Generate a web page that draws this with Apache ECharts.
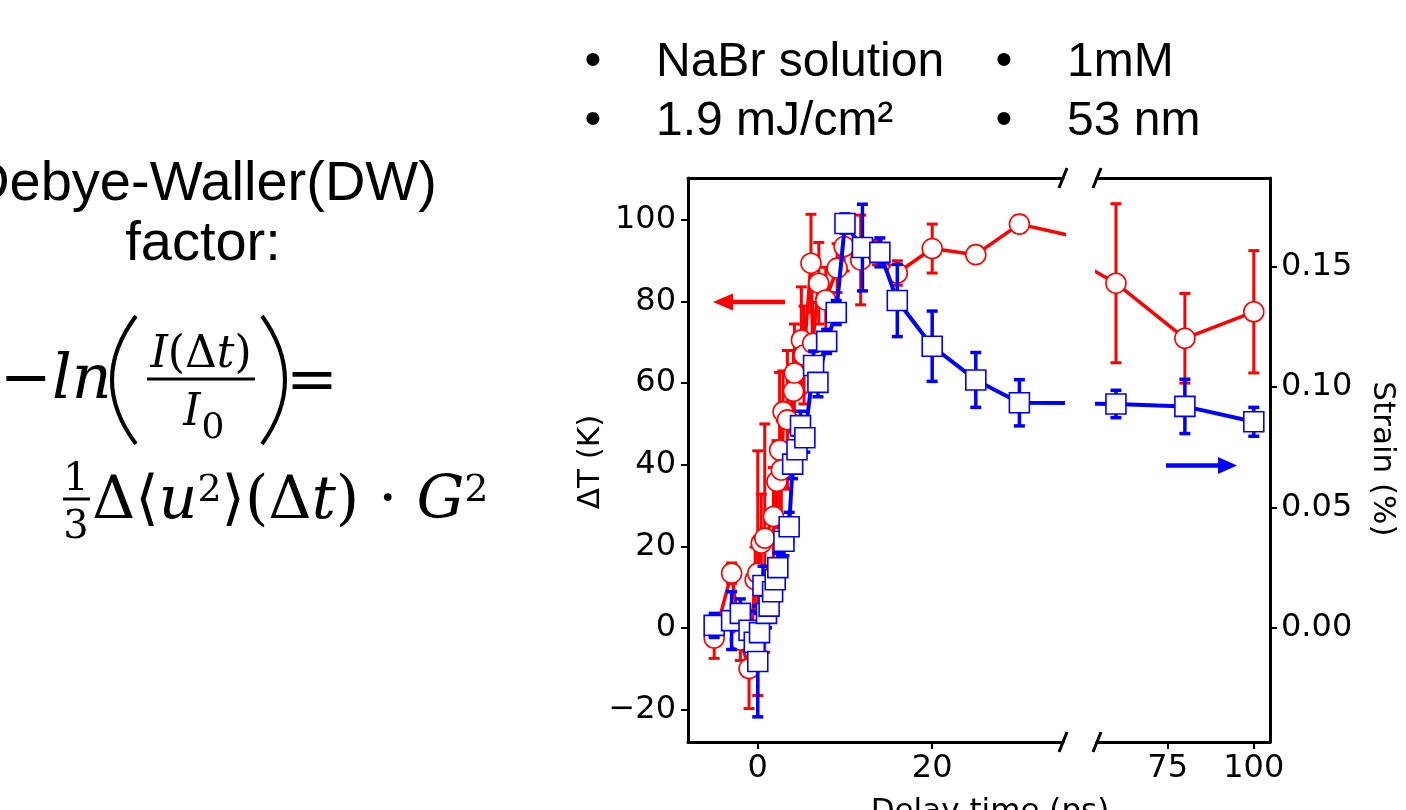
<!DOCTYPE html>
<html><head><meta charset="utf-8">
<script src="https://cdn.jsdelivr.net/npm/echarts@6/dist/echarts.min.js"></script>
<style>html,body{margin:0;padding:0;background:#fff}#c{width:1406px;height:810px}</style>
</head><body><div id="c"></div>
<script>
// ---- data ----
const redT   = [-5, -3, -2, -1, -0.3, 0, 0.4, 0.8, 1.8, 2.2, 2.5, 2.7, 2.9, 3.4, 4.1, 4.2, 5.0, 5.3, 6.1, 6.3, 7.0, 7.8, 9.1, 9.9, 11.8, 13.7, 16, 20, 25, 30, 60, 80, 100];
const redVal = [-2.5, 13.4, -3, -10, 11.8, 13.4, 20.8, 22, 27.3, 35.9, 43.6, 38.7, 53, 51, 58, 62.5, 70.6, 66.9, 89.4, 69.8, 84.5, 80.4, 88.2, 93.5, 90.2, 92, 87, 93, 91.5, 99, 84.5, 71, 77.5];
const redErr = [5, 2.5, 5, 9.8, 8, 30, 12, 28, 12, 10, 19, 12, 10, 17, 10, 12, 13, 12, 12, 10, 10, 8, 6, 6, 11, 3, 3, 6, 2, 2, 19.5, 11, 15];

const blueT   = [-5, -3, -2, -1, -0.4, 0, 0.2, 0.6, 1.0, 1.3, 1.7, 2.0, 2.3, 3.0, 3.6, 4.0, 4.5, 4.9, 5.4, 6.4, 6.9, 7.9, 9.0, 10.0, 12, 14, 16, 20, 25, 30, 60, 80, 100];
const blueVal = [0.001, 0.003, 0.006, -0.001, -0.006, -0.014, -0.002, 0.0176, 0.006, 0.009, 0.015, 0.020, 0.025, 0.036, 0.042, 0.068, 0.074, 0.084, 0.079, 0.109, 0.102, 0.119, 0.131, 0.168, 0.158, 0.156, 0.136, 0.117, 0.103, 0.0935, 0.093, 0.092, 0.0856];
const blueErr = [0.005, 0.012, 0.006, 0.008, 0.008, 0.023, 0.008, 0.008, 0.006, 0.006, 0.006, 0.006, 0.006, 0.006, 0.006, 0.006, 0.006, 0.006, 0.006, 0.006, 0.006, 0.005, 0.005, 0.004, 0.018, 0.006, 0.015, 0.0146, 0.0114, 0.0096, 0.0057, 0.0113, 0.006];

const yTicksLeft  = [-20, 0, 20, 40, 60, 80, 100];
const yTicksRight = [0, 0.05, 0.10, 0.15];
const xTicksLeft  = [0, 20];
const xTicksRight = [75, 100];

// axis ranges
const xLeftRange  = [-8, 35];
const xRightRange = [54.5, 104.7];
const dtRange     = [-28, 110.3];
const strainRange = [-0.04744, 0.1869];

const RED = '#ff0000', BLUE = '#0000ff';
const TICKFONT = 'DejaVu Sans';

const chart = echarts.init(document.getElementById('c'), null, {renderer: 'canvas'});

function errRender(capHalf, color, lw) {
  return function (params, api) {
    const x = api.value(0), lo = api.value(1), hi = api.value(2);
    const p1 = api.coord([x, lo]), p2 = api.coord([x, hi]);
    const st = {stroke: color, lineWidth: lw};
    return {type: 'group', children: [
      {type: 'line', shape: {x1: p1[0], y1: p1[1], x2: p2[0], y2: p2[1]}, style: st},
      {type: 'line', shape: {x1: p1[0] - capHalf, y1: p1[1], x2: p1[0] + capHalf, y2: p1[1]}, style: st},
      {type: 'line', shape: {x1: p2[0] - capHalf, y1: p2[1], x2: p2[0] + capHalf, y2: p2[1]}, style: st}
    ]};
  };
}
function errData(ts, vs, es, range) {
  const out = [];
  ts.forEach((t, i) => { if (t >= range[0] && t <= range[1]) out.push([t, vs[i] - es[i], vs[i] + es[i]]); });
  return out;
}
const redPts  = redT.map((t, i) => [t, redVal[i]]);
const bluePts = blueT.map((t, i) => [t, blueVal[i]]);

const axLine = {show: true, onZero: false, lineStyle: {color: '#000', width: 3}};
const tickStyle = {lineStyle: {color: '#000', width: 2}, length: 7};
const fmtMinus = v => (v < 0 ? '\u2212' + Math.abs(v) : String(v));

function xBottom(gi, range, ticks) {
  return {type: 'value', gridIndex: gi, position: 'bottom', min: range[0], max: range[1],
    axisLine: axLine, splitLine: {show: false},
    axisTick: Object.assign({show: true, customValues: ticks}, tickStyle),
    axisLabel: {show: true, customValues: ticks, fontSize: 32, fontFamily: TICKFONT, color: '#000', margin: 11, formatter: fmtMinus}};
}
function xTop(gi, range) {
  return {type: 'value', gridIndex: gi, position: 'top', min: range[0], max: range[1],
    axisLine: axLine, splitLine: {show: false}, axisTick: {show: false}, axisLabel: {show: false}};
}

const lineSeries = (xi, yi, data, color, sym, lw, z) => ({
  type: 'line', xAxisIndex: xi, yAxisIndex: yi, data: data, clip: true, z: z,
  symbol: sym, symbolSize: 20, showAllSymbol: true, animation: false,
  lineStyle: {color: color, width: lw},
  itemStyle: {color: '#fff', borderColor: color, borderWidth: 1.6},
  emphasis: {disabled: true}
});
const errSeries = (xi, yi, data, color, lw, z) => ({
  type: 'custom', xAxisIndex: xi, yAxisIndex: yi, data: data, clip: true, z: z,
  renderItem: errRender(5.5, color, lw), animation: false, silent: true
});

const T = (text, x, y, size, opts) => Object.assign({type: 'text', x: x, y: y, silent: true,
  style: Object.assign({text: text, fontSize: size, fontFamily: 'Liberation Sans', fill: '#000', align: 'left', verticalAlign: 'middle'}, opts || {})});
const L = (x1, y1, x2, y2, color, w) => ({type: 'line', silent: true, shape: {x1, y1, x2, y2}, style: {stroke: color, lineWidth: w}});

const serif = 'DejaVu Serif';
const richEq = {
  n: {fontFamily: serif, fontSize: 60, fill: '#000'},
  i: {fontFamily: serif, fontStyle: 'italic', fontSize: 60, fill: '#000'},
  s: {fontFamily: serif, fontSize: 38, fill: '#000', verticalAlign: 'top'}
};

const graphics = [
  // left text
  T('Debye-Waller(DW)', 203, 185, 56, {align: 'center'}),
  T('factor:', 203, 245, 56, {align: 'center'}),
  // equation line 1
  T('{n|\u2212}{i|ln}', 0, 382, 0, {rich: {n: {fontFamily: serif, fontSize: 62, fill: '#000'}, i: {fontFamily: serif, fontStyle: 'italic', fontSize: 62, fill: '#000'}}}),
  {type: 'bezierCurve', silent: true, shape: {x1: 136, y1: 316, x2: 136, y2: 444, cpx1: 88, cpy1: 380}, style: {stroke: '#000', lineWidth: 4, fill: null}},
  T('{i|I}{n|(\u0394}{i|t}{n|)}', 201, 356, 0, {align: 'center', rich: {n: {fontFamily: serif, fontSize: 44, fill: '#000'}, i: {fontFamily: serif, fontStyle: 'italic', fontSize: 44, fill: '#000'}}}),
  L(147, 379, 255, 379, '#000', 3),
  T('I', 192, 414, 44, {fontFamily: serif, fontStyle: 'italic', align: 'center'}),
  T('0', 213, 429, 36, {fontFamily: serif, align: 'center'}),
  {type: 'bezierCurve', silent: true, shape: {x1: 262, y1: 316, x2: 262, y2: 444, cpx1: 308, cpy1: 380}, style: {stroke: '#000', lineWidth: 4, fill: null}},
  T('=', 312, 384, 62, {fontFamily: serif, align: 'center'}),
  // equation line 2
  T('1', 76, 480, 40, {fontFamily: serif, align: 'center'}),
  L(63, 499, 90, 499, '#000', 3),
  T('3', 76, 528, 40, {fontFamily: serif, align: 'center'}),
  T('{n|\u0394\u27E8}{i|u}{s|2}{n|\u27E9(\u0394}{i|t}{n|) \u00B7 }{i|G}{s|2}', 92, 502, 0, {rich: richEq}),
  // bullets
  T('\u2022', 593, 62, 48, {align: 'center'}),
  T('NaBr solution', 656, 63, 48),
  T('\u2022', 1004, 62, 48, {align: 'center'}),
  T('1mM', 1067, 63, 48),
  T('\u2022', 593, 121, 48, {align: 'center'}),
  T('1.9 mJ/cm\u00B2', 656, 122, 48),
  T('\u2022', 1004, 121, 48, {align: 'center'}),
  T('53 nm', 1067, 122, 48),
  // axis titles
  Object.assign(T('\u0394T (K)', 0, 0, 31, {fontFamily: TICKFONT, align: 'center'}), {x: 591, y: 462, rotation: Math.PI / 2}),
  Object.assign(T('Strain (%)', 0, 0, 31, {fontFamily: TICKFONT, align: 'center'}), {x: 1382, y: 459, rotation: -Math.PI / 2}),
  T('Delay time (ps)', 990, 812, 31, {fontFamily: TICKFONT, align: 'center'}),
  // arrows
  L(731, 302, 785, 302, RED, 4.5),
  {type: 'polygon', silent: true, shape: {points: [[713, 302], [733, 293.5], [733, 310.5]]}, style: {fill: RED}},
  L(1166, 465.5, 1220, 465.5, BLUE, 4.5),
  {type: 'polygon', silent: true, shape: {points: [[1237, 465.5], [1218, 457], [1218, 474]]}, style: {fill: BLUE}},
  // break marks
  L(1059, 188, 1067, 168, '#000', 3),
  L(1059, 752, 1067, 732, '#000', 3),
  L(1093, 188, 1101, 168, '#000', 3),
  L(1093, 752, 1101, 732, '#000', 3)
];

const option = {
  backgroundColor: '#fff',
  animation: false,
  grid: [
    {left: 688, top: 178, width: 375, height: 564},
    {left: 1097, top: 178, width: 173, height: 564}
  ],
  xAxis: [
    xBottom(0, xLeftRange, xTicksLeft),
    xBottom(1, xRightRange, xTicksRight),
    xTop(0, xLeftRange),
    xTop(1, xRightRange)
  ],
  yAxis: [
    {type: 'value', gridIndex: 0, position: 'left', min: dtRange[0], max: dtRange[1],
      axisLine: axLine, splitLine: {show: false},
      axisTick: Object.assign({show: true, customValues: yTicksLeft}, tickStyle),
      axisLabel: {show: true, customValues: yTicksLeft, fontSize: 32, fontFamily: TICKFONT, color: '#000', margin: 12, formatter: fmtMinus}},
    {type: 'value', gridIndex: 0, position: 'right', min: strainRange[0], max: strainRange[1], show: false},
    {type: 'value', gridIndex: 1, position: 'left', min: dtRange[0], max: dtRange[1], show: false},
    {type: 'value', gridIndex: 1, position: 'right', min: strainRange[0], max: strainRange[1],
      axisLine: axLine, splitLine: {show: false},
      axisTick: Object.assign({show: true, customValues: yTicksRight}, tickStyle),
      axisLabel: {show: true, customValues: yTicksRight, fontSize: 32, fontFamily: TICKFONT, color: '#000', margin: 11, formatter: v => v.toFixed(2)}}
  ],
  series: [
    errSeries(0, 0, errData(redT, redVal, redErr, xLeftRange), RED, 3, 2),
    errSeries(1, 2, errData(redT, redVal, redErr, xRightRange), RED, 3, 2),
    lineSeries(0, 0, redPts, RED, 'circle', 3.5, 3),
    lineSeries(1, 2, redPts, RED, 'circle', 3.5, 3),
    errSeries(0, 1, errData(blueT, blueVal, blueErr, xLeftRange), BLUE, 3.5, 4),
    errSeries(1, 3, errData(blueT, blueVal, blueErr, xRightRange), BLUE, 3.5, 4),
    lineSeries(0, 1, bluePts, BLUE, 'rect', 4, 5),
    lineSeries(1, 3, bluePts, BLUE, 'rect', 4, 5)
  ],
  graphic: graphics
};
chart.setOption(option);
</script>
</body></html>
